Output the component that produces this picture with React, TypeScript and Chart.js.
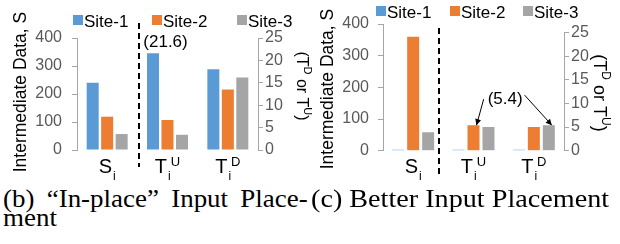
import React, { useEffect, useRef } from 'react';
import { Chart, registerables } from 'chart.js';

Chart.register(...registerables);

// ---------- data ----------
const siteNames = ['Site-1', 'Site-2', 'Site-3'];
const siteColors = ['#5B9BD5', '#ED7D31', '#A5A5A5'];
const categoryBase = ['S', 'T', 'T'];
const categorySub = ['i', 'i', 'i'];
const categorySup = ['', 'U', 'D'];
const leftTicks = [0, 100, 200, 300, 400];
const rightTicks = [0, 5, 10, 15, 20, 25];

// (b) "In-place" input placement
const bSi = [240, 119, 57];
const bTiU = [21.6, 6.7, 3.4];
const bTiD = [18.0, 13.5, 16.2];

// (c) Better input placement
const cSi = [3, 360, 58];
const cTiU = [0.2, 5.4, 5.0];
const cTiD = [0.2, 5.0, 5.4];

const yTitle = 'Intermediate Data, S';
const rightTitleParts = ['(', 'T', 'D', ' or ', 'T', 'U', ')'];
const rightTitleSup = [false, false, true, false, false, true, false];
const annotB = '(21.6)';
const annotC = '(5.4)';
const captionB1 = '(b) \u201cIn-place\u201d Input Place-';
const captionB2 = 'ment';
const captionC = '(c) Better Input Placement';

// ---------- style ----------
const SANS = '"Liberation Sans", Arial, sans-serif';
const SERIF = '"Liberation Serif", "Times New Roman", serif';
const AXIS = '#A6A6A6';
const TICK = '#595959';

type Spec = {
  si: number[]; tiu: number[]; tid: number[];
  width: number; height: number;
  padTop: number; padBottom: number;
  yWidth: number; y1Width: number;
  yPad: number; y1Pad: number;
  y1Max: number;
  catPct: number; barPct: number;
  legendX: number[]; legendBaseline: number;
  yTitleX: number; yTitleCenter: number;
  rTitleX: number; rTitleCenter: number; rTitleSize: number;
  dashTop: number; dashBottom: number; dashDx: number;
  annotation: 'b' | 'c';
};

const specB: Spec = {
  si: bSi, tiu: bTiU, tid: bTiD,
  width: 314, height: 182,
  padTop: 38, padBottom: 32,
  yWidth: 77, y1Width: 56,
  yPad: 10, y1Pad: 2,
  y1Max: 25,
  catPct: 0.72, barPct: 0.83,
  legendX: [73, 152, 237], legendBaseline: 27,
  yTitleX: 26, yTitleCenter: 92,
  rTitleX: 297, rTitleCenter: 86, rTitleSize: 16,
  dashTop: 23, dashBottom: 167, dashDx: 2,
  annotation: 'b',
};

const specC: Spec = {
  si: cSi, tiu: cTiU, tid: cTiD,
  width: 308, height: 182,
  padTop: 24, padBottom: 31.3,
  yWidth: 71, y1Width: 56,
  yPad: 9, y1Pad: 2,
  y1Max: 26.8,
  catPct: 0.745, barPct: 0.8,
  legendX: [64, 138, 211], legendBaseline: 18,
  yTitleX: 21, yTitleCenter: 89,
  rTitleX: 282, rTitleCenter: 93, rTitleSize: 18,
  dashTop: 28, dashBottom: 175, dashDx: -4,
  annotation: 'c',
};

function arrow(ctx: CanvasRenderingContext2D, x1: number, y1: number, x2: number, y2: number) {
  ctx.beginPath();
  ctx.moveTo(x1, y1);
  ctx.lineTo(x2, y2);
  ctx.stroke();
  const a = Math.atan2(y2 - y1, x2 - x1);
  const L = 6, W = 3;
  ctx.beginPath();
  ctx.moveTo(x2, y2);
  ctx.lineTo(x2 - L * Math.cos(a) + W * Math.sin(a), y2 - L * Math.sin(a) - W * Math.cos(a));
  ctx.lineTo(x2 - L * Math.cos(a) - W * Math.sin(a), y2 - L * Math.sin(a) + W * Math.cos(a));
  ctx.closePath();
  ctx.fill();
}

function makeDecor(spec: Spec) {
  return {
    id: 'decor',
    afterDraw(chart: any) {
      const ctx: CanvasRenderingContext2D = chart.ctx;
      const xs = chart.scales.x;
      const y1 = chart.scales.y1;
      ctx.save();

      // right axis line (0..25)
      ctx.strokeStyle = AXIS;
      ctx.lineWidth = 1;
      ctx.beginPath();
      const ax = Math.round(y1.left) + 0.5;
      ctx.moveTo(ax, y1.getPixelForValue(rightTicks[0]));
      ctx.lineTo(ax, y1.getPixelForValue(rightTicks[rightTicks.length - 1]));
      ctx.stroke();

      // legend
      ctx.fillStyle = '#000';
      ctx.textBaseline = 'alphabetic';
      ctx.textAlign = 'left';
      ctx.font = `17px ${SANS}`;
      siteNames.forEach((name, k) => {
        const x = spec.legendX[k];
        ctx.fillStyle = siteColors[k];
        ctx.fillRect(x, spec.legendBaseline - 12, 10, 10);
        ctx.fillStyle = '#000';
        ctx.fillText(name, x + 11, spec.legendBaseline);
      });

      // x labels with sub/superscripts
      categoryBase.forEach((base, i) => {
        const cx = xs.getPixelForValue(i);
        ctx.font = `20px ${SANS}`;
        const wb = ctx.measureText(base).width;
        ctx.font = `12px ${SANS}`;
        const ws = ctx.measureText(categorySub[i]).width;
        ctx.font = `13px ${SANS}`;
        const wp = ctx.measureText(categorySup[i]).width;
        const total = wb + 1 + ws + wp;
        const sx = cx - total / 2;
        ctx.fillStyle = '#000';
        ctx.font = `20px ${SANS}`;
        ctx.fillText(base, sx, 173);
        ctx.font = `12px ${SANS}`;
        ctx.fillText(categorySub[i], sx + wb + 1, 180);
        ctx.font = `13px ${SANS}`;
        ctx.fillText(categorySup[i], sx + wb + 1 + ws, 166);
      });

      // left axis title
      ctx.save();
      ctx.translate(spec.yTitleX, spec.yTitleCenter);
      ctx.rotate(-Math.PI / 2);
      ctx.textAlign = 'center';
      ctx.font = `17.5px ${SANS}`;
      ctx.fillStyle = '#000';
      ctx.fillText(yTitle, 0, 0);
      ctx.restore();

      // right axis title (rotated clockwise)
      ctx.save();
      ctx.translate(spec.rTitleX, spec.rTitleCenter);
      ctx.rotate(Math.PI / 2);
      ctx.textAlign = 'left';
      const mainF = `${spec.rTitleSize}px ${SANS}`;
      const supF = `${Math.round(spec.rTitleSize * 0.68)}px ${SANS}`;
      let tw = 0;
      rightTitleParts.forEach((p, j) => {
        ctx.font = rightTitleSup[j] ? supF : mainF;
        tw += ctx.measureText(p).width;
      });
      let px = -tw / 2;
      rightTitleParts.forEach((p, j) => {
        ctx.font = rightTitleSup[j] ? supF : mainF;
        ctx.fillText(p, px, rightTitleSup[j] ? -spec.rTitleSize * 0.45 : 0);
        px += ctx.measureText(p).width;
      });
      ctx.restore();

      // dashed separator
      ctx.strokeStyle = '#000';
      ctx.lineWidth = 2;
      ctx.setLineDash([6, 4]);
      const dx = Math.round((xs.getPixelForValue(0) + xs.getPixelForValue(1)) / 2 + spec.dashDx);
      ctx.beginPath();
      ctx.moveTo(dx, spec.dashTop);
      ctx.lineTo(dx, spec.dashBottom);
      ctx.stroke();
      ctx.setLineDash([]);

      // annotations
      ctx.fillStyle = '#000';
      ctx.strokeStyle = '#000';
      ctx.lineWidth = 1;
      ctx.font = `17px ${SANS}`;
      ctx.textAlign = 'center';
      if (spec.annotation === 'b') {
        const el = chart.getDatasetMeta(3).data[1];
        ctx.fillText(annotB, el.x + 12.5, el.y - 6);
      } else {
        const o = chart.getDatasetMeta(4).data[1];
        const g = chart.getDatasetMeta(5).data[2];
        const cx = (o.x + g.x) / 2 - 6;
        const base = Math.min(o.y, g.y) - 21;
        ctx.fillText(annotC, cx, base);
        const w = ctx.measureText(annotC).width;
        arrow(ctx, cx - w / 2 - 4, base - 5, o.x + 3, o.y);
        arrow(ctx, cx + w / 2 + 2, base - 9, g.x + 3, g.y);
      }
      ctx.restore();
    },
  };
}

function buildChart(canvas: HTMLCanvasElement, spec: Spec) {
  const labels = categoryBase.map((b, i) => b + categorySub[i] + categorySup[i]);
  const common = { skipNull: true, categoryPercentage: spec.catPct, barPercentage: spec.barPct, borderWidth: 0 };
  const datasets: any[] = [];
  siteNames.forEach((name, k) => {
    datasets.push({ ...common, label: name, data: [spec.si[k], null, null], yAxisID: 'y', backgroundColor: siteColors[k] });
  });
  siteNames.forEach((name, k) => {
    datasets.push({ ...common, label: name + ' (T)', data: [null, spec.tiu[k], spec.tid[k]], yAxisID: 'y1', backgroundColor: siteColors[k] });
  });
  const tickFont = { family: SANS, size: 16 };
  return new Chart(canvas, {
    type: 'bar',
    data: { labels, datasets },
    options: {
      animation: false,
      responsive: false,
      maintainAspectRatio: false,
      devicePixelRatio: 1,
      layout: { padding: { top: spec.padTop, bottom: spec.padBottom, left: 0, right: 0 } },
      plugins: { legend: { display: false }, tooltip: { enabled: false } },
      scales: {
        x: { display: false, offset: true },
        y: {
          position: 'left', min: 0, max: 400,
          afterBuildTicks: (s: any) => { s.ticks = leftTicks.map((v) => ({ value: v })); },
          afterFit: (s: any) => { s.width = spec.yWidth; },
          ticks: { color: TICK, font: tickFont, padding: spec.yPad },
          grid: { drawOnChartArea: false, drawTicks: true, tickLength: 5, color: AXIS },
          border: { display: true, color: AXIS },
        },
        y1: {
          position: 'right', min: 0, max: spec.y1Max,
          afterBuildTicks: (s: any) => { s.ticks = rightTicks.map((v) => ({ value: v })); },
          afterFit: (s: any) => { s.width = spec.y1Width; },
          ticks: { color: TICK, font: tickFont, padding: spec.y1Pad },
          grid: { drawOnChartArea: false, drawTicks: true, tickLength: 5, color: AXIS },
          border: { display: false },
        },
      },
    } as any,
    plugins: [makeDecor(spec)],
  });
}

export default function App() {
  const bRef = useRef<HTMLCanvasElement>(null);
  const cRef = useRef<HTMLCanvasElement>(null);
  useEffect(() => {
    const c1 = buildChart(bRef.current as HTMLCanvasElement, specB);
    const c2 = buildChart(cRef.current as HTMLCanvasElement, specC);
    return () => { c1.destroy(); c2.destroy(); };
  }, []);
  const cap: React.CSSProperties = {
    position: 'absolute', fontFamily: SERIF, fontSize: 24.5, lineHeight: '24px', color: '#000',
    transformOrigin: 'left top',
  };
  return (
    <div style={{ position: 'absolute', left: 0, top: 0, width: 620, height: 244, background: '#fff', overflow: 'hidden' }}>
      <canvas ref={bRef} width={specB.width} height={specB.height}
        style={{ position: 'absolute', left: 0, top: 0, width: specB.width, height: specB.height }} />
      <canvas ref={cRef} width={specC.width} height={specC.height}
        style={{ position: 'absolute', left: 312, top: 0, width: specC.width, height: specC.height }} />
      <div style={{ ...cap, left: 3, top: 187, width: 277, textAlign: 'justify', textAlignLast: 'justify', transform: 'scaleX(1.1)' }}>{captionB1}</div>
      <div style={{ ...cap, left: 3, top: 206, transform: 'scaleX(1.1)', whiteSpace: 'nowrap' }}>{captionB2}</div>
      <div style={{ ...cap, left: 311, top: 187, whiteSpace: 'nowrap', transform: 'scaleX(1.15)' }}>{captionC}</div>
    </div>
  );
}
